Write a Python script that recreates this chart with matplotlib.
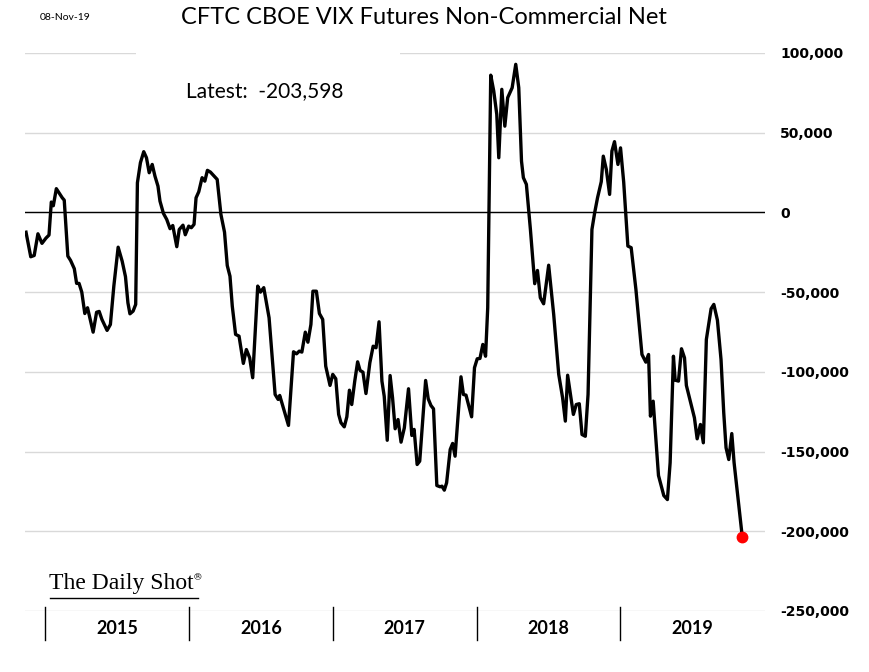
import numpy as np
import matplotlib
matplotlib.use("Agg")
from matplotlib import pyplot as plt
from matplotlib.patches import Rectangle
from matplotlib.transforms import blended_transform_factory

plt.rcParams['axes.unicode_minus'] = False

# Weekly-ish readings, x in fractional years, y in thousands of contracts
years = [
    2014.866, 2014.899, 2014.923, 2014.949, 2014.977, 2015.005, 2015.026, 2015.042, 2015.056, 2015.077,
    2015.118, 2015.132, 2015.157, 2015.176, 2015.202, 2015.218, 2015.235, 2015.254, 2015.275, 2015.294,
    2015.308, 2015.333, 2015.357, 2015.375, 2015.394, 2015.430, 2015.453, 2015.477, 2015.507, 2015.535,
    2015.558, 2015.575, 2015.589, 2015.611, 2015.629, 2015.641, 2015.662, 2015.685, 2015.704, 2015.723,
    2015.744, 2015.763, 2015.784, 2015.798, 2015.822, 2015.845, 2015.868, 2015.887, 2015.915, 2015.932,
    2015.958, 2015.974, 2015.998, 2016.016, 2016.035, 2016.049, 2016.068, 2016.091, 2016.110, 2016.128,
    2016.149, 2016.175, 2016.196, 2016.222, 2016.247, 2016.266, 2016.285, 2016.301, 2016.324, 2016.348,
    2016.378, 2016.399, 2016.422, 2016.443, 2016.478, 2016.497, 2016.520, 2016.557, 2016.599, 2016.620,
    2016.631, 2016.692, 2016.727, 2016.748, 2016.767, 2016.785, 2016.809, 2016.827, 2016.848, 2016.862,
    2016.886, 2016.907, 2016.930, 2016.951, 2016.981, 2017.000, 2017.021, 2017.041, 2017.057, 2017.080,
    2017.098, 2017.116, 2017.132, 2017.153, 2017.173, 2017.190, 2017.210, 2017.231, 2017.258, 2017.281,
    2017.301, 2017.322, 2017.342, 2017.358, 2017.379, 2017.399, 2017.416, 2017.434, 2017.454, 2017.475,
    2017.498, 2017.527, 2017.550, 2017.566, 2017.587, 2017.605, 2017.646, 2017.664, 2017.683, 2017.701,
    2017.724, 2017.747, 2017.760, 2017.776, 2017.792, 2017.817, 2017.834, 2017.851, 2017.892, 2017.909,
    2017.927, 2017.966, 2017.986, 2018.005, 2018.024, 2018.044, 2018.063, 2018.078, 2018.099, 2018.120,
    2018.141, 2018.155, 2018.176, 2018.197, 2018.217, 2018.248, 2018.273, 2018.294, 2018.313, 2018.326,
    2018.347, 2018.375, 2018.405, 2018.424, 2018.444, 2018.467, 2018.502, 2018.537, 2018.572, 2018.599,
    2018.618, 2018.634, 2018.674, 2018.694, 2018.715, 2018.734, 2018.757, 2018.776, 2018.803, 2018.822,
    2018.842, 2018.868, 2018.882, 2018.903, 2018.926, 2018.942, 2018.960, 2018.984, 2019.002, 2019.024,
    2019.053, 2019.076, 2019.109, 2019.151, 2019.178, 2019.197, 2019.210, 2019.229, 2019.266, 2019.303,
    2019.328, 2019.347, 2019.370, 2019.382, 2019.405, 2019.426, 2019.447, 2019.460, 2019.516, 2019.535,
    2019.558, 2019.578, 2019.599, 2019.632, 2019.651, 2019.676, 2019.701, 2019.720, 2019.736, 2019.755,
    2019.776, 2019.792, 2019.849,
]
net_k = [
    -12.4, -27.8, -27.0, -13.4, -19.4, -16.1, -14.2, 6.5, 4.2, 14.9,
    9.2, 7.7, -27.4, -30.1, -35.3, -44.5, -44.5, -50.0, -63.4, -59.8,
    -65.4, -75.1, -62.6, -62.1, -67.1, -74.0, -70.3, -46.2, -21.8, -30.6,
    -40.3, -56.7, -63.6, -61.9, -57.7, 18.6, 31.2, 38.1, 34.3, 24.9,
    30.1, 22.8, 16.5, 7.1, -0.6, -4.4, -10.2, -8.2, -21.5, -10.7,
    -8.0, -14.0, -8.6, -9.6, -7.5, 9.2, 13.0, 21.8, 19.6, 26.4,
    25.3, 22.8, 20.7, -1.3, -12.4, -33.3, -40.0, -58.8, -76.5, -77.6,
    -94.7, -86.0, -91.2, -103.7, -46.2, -50.0, -47.2, -66.1, -114.2, -117.3,
    -114.8, -133.6, -87.4, -88.7, -87.0, -87.6, -75.1, -81.4, -70.3, -49.4,
    -49.4, -63.4, -67.1, -96.4, -108.5, -101.6, -104.3, -126.7, -131.9, -134.5,
    -128.2, -111.5, -120.5, -105.8, -93.7, -99.1, -100.2, -113.6, -94.3, -83.9,
    -84.9, -68.6, -105.8, -115.3, -142.9, -102.3, -116.3, -135.7, -129.9, -144.1,
    -135.1, -110.6, -139.9, -136.1, -158.1, -156.0, -105.4, -116.9, -121.1, -123.2,
    -171.3, -172.1, -171.7, -174.2, -169.6, -148.7, -144.9, -152.9, -103.1, -114.2,
    -114.6, -128.2, -97.4, -91.8, -91.6, -82.8, -90.2, -59.8, 86.1, 76.1,
    61.5, 34.3, 77.2, 54.1, 72.0, 78.2, 92.9, 78.2, 32.2, 21.8,
    17.6, -10.7, -44.7, -36.4, -53.5, -57.3, -33.1, -64.0, -101.6, -116.3,
    -130.9, -102.1, -126.7, -120.5, -120.0, -139.3, -140.4, -114.2, -10.7, -0.2,
    9.2, 19.3, 35.3, 27.0, 11.3, 38.5, 44.4, 30.1, 40.5, 19.0,
    -21.1, -22.1, -48.3, -89.1, -93.9, -89.1, -127.8, -118.4, -165.0, -177.6,
    -180.1, -157.0, -90.2, -105.2, -105.8, -85.5, -91.2, -108.5, -128.8, -142.0,
    -133.0, -144.5, -79.7, -60.4, -57.7, -67.6, -92.2, -125.7, -147.6, -155.0,
    -138.7, -157.0, -203.598,
]
year_labels = [2015, 2016, 2017, 2018, 2019]
y_ticks = [100000, 50000, 0, -50000, -100000, -150000, -200000, -250000]
latest = net_k[-1] * 1000

x = np.array(years)
y = np.array(net_k) * 1000

fig = plt.figure(figsize=(8.7, 6.72), dpi=100)
ax = fig.add_axes([25 / 870, 61 / 672, 740 / 870, 558 / 672])

ax.set_xlim(2014.859, 2020.007)
ax.set_ylim(-250000, 100000)

for s in ax.spines.values():
    s.set_visible(False)

ax.set_yticks(y_ticks)
ax.yaxis.tick_right()
ax.tick_params(axis='y', length=0, pad=11, labelsize=10)
ax.set_yticklabels(['{:,.0f}'.format(v) for v in y_ticks], fontweight='bold')
for lbl in ax.get_yticklabels():
    lbl.set_horizontalalignment('left')
ax.set_xticks([])
ax.grid(axis='y', color='#d9d9d9', lw=1, zorder=0)
ax.set_axisbelow(True)
ax.axhline(0, color='black', lw=1, zorder=1)

# white box behind the "Latest" note hides part of the top gridline
ax.add_patch(Rectangle((0.15, 0.86), 0.357, 0.16, transform=ax.transAxes,
                       facecolor='white', edgecolor='none', zorder=1.5, clip_on=False))

ax.plot(x, y, color='black', lw=2.4, zorder=3, solid_joinstyle='round')
ax.plot(x[-1], y[-1], 'o', color='red', markersize=7.5, zorder=4)

# year separators and labels below the plot
trans = blended_transform_factory(ax.transData, ax.transAxes)
for yr in year_labels:
    ax.plot([yr, yr], [0.007, -0.052], color='black', lw=1, transform=trans, clip_on=False)
    ax.text(yr + 0.5, -0.031, str(yr), transform=trans, ha='center', va='center',
            fontsize=13, fontweight='bold', family='Lato')

fig.text(424 / 870, 1 - 18 / 672, 'CFTC CBOE VIX Futures Non-Commercial Net',
         ha='center', va='center', fontsize=17, family='Lato')
fig.text(40 / 870, 1 - 17 / 672, '08-Nov-19', ha='left', va='center', fontsize=7.5, family='Lato')
fig.text(186 / 870, 1 - 91 / 672, 'Latest:  {:,.0f}'.format(latest),
         ha='left', va='center', fontsize=15, family='Lato')

fig.text(49 / 870, 1 - 584 / 672, 'The Daily Shot', ha='left', va='center',
         fontsize=17, family='Liberation Serif')
fig.text(193 / 870, 1 - 578 / 672, '\u00ae', ha='left', va='center',
         fontsize=7, family='DejaVu Serif')
fig.add_artist(plt.Line2D([50 / 870, 198 / 870], [1 - 598 / 672, 1 - 598 / 672],
                          color='black', lw=1))

fig.savefig('out.png', dpi=100, facecolor='white')
